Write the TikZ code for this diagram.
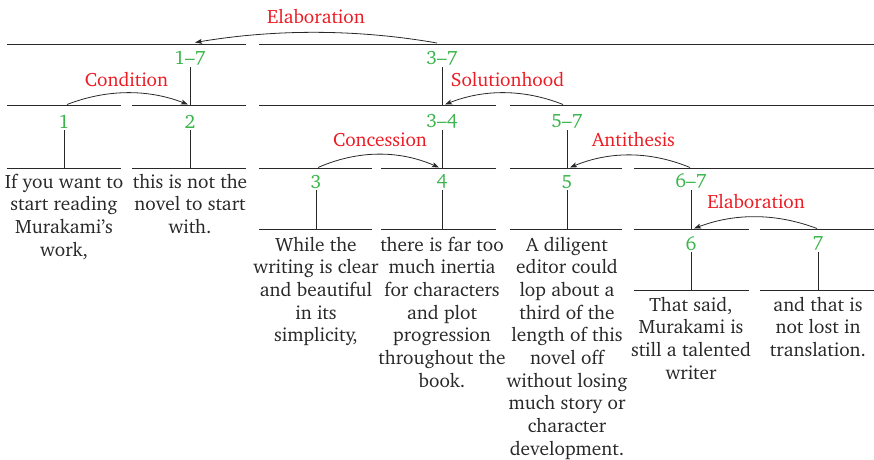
\documentclass[tikz,border=0pt]{standalone}
\usepackage[T1]{fontenc}
\usepackage{charter}
\usetikzlibrary{arrows.meta}
\definecolor{relred}{RGB}{237,28,36}
\definecolor{spangreen}{RGB}{57,181,74}
\definecolor{inkc}{RGB}{40,40,40}
\newcommand{\rstfont}{\fontsize{19.3}{22.7}\selectfont}
\begin{document}
\begin{tikzpicture}[x=1pt,y=-1pt,
  spanline/.style={line width=0.9pt,draw=inkc},
  stem/.style={line width=0.9pt,draw=inkc},
  spanlbl/.style={text=spangreen,font=\rstfont,inner xsep=0pt,inner ysep=1.5pt,anchor=south},
  relname/.style={text=relred,font=\rstfont,inner sep=0pt,anchor=base},
  edu/.style={text=inkc,font=\rstfont,align=center,inner sep=0pt,anchor=north},
  relarrow/.style={draw=inkc,line width=0.8pt,-{Stealth[length=7pt,width=5pt,inset=1.5pt]}}]
\useasboundingbox (0,0) rectangle (874,459);

% horizontal span lines, row by row
\foreach \a/\b/\y in {7/246/44, 259/874/44,
    7/121/105, 132/246/105, 259/496/105, 510/874/105,
    7/121/168, 132/246/168, 259/372/168, 381/496/168, 510/622/168, 634/874/168,
    259/372/229, 381/496/229, 510/622/229, 634/749/229, 760/874/229,
    634/749/290, 760/874/290}
  \draw[spanline] (\a,\y) -- (\b,\y);

% span labels
\node[spanlbl] (n17) at (190,67)  {1--7};
\node[spanlbl] (n37) at (442,67)  {3--7};
\node[spanlbl] (n1)  at (64,130)  {1};
\node[spanlbl] (n2)  at (190,130) {2};
\node[spanlbl] (n34) at (442,130) {3--4};
\node[spanlbl] (n57) at (567,130) {5--7};
\node[spanlbl] (n3)  at (316,190) {3};
\node[spanlbl] (n4)  at (442,190) {4};
\node[spanlbl] (n5)  at (567,190) {5};
\node[spanlbl] (n67) at (691,190) {6--7};
\node[spanlbl] (n6)  at (691,252) {6};
\node[spanlbl] (n7)  at (818,252) {7};

% stem ends on the span lines below
\coordinate (b17) at (190,105);
\coordinate (b37) at (442,105);
\coordinate (b1)  at (64,168);
\coordinate (b2)  at (190,168);
\coordinate (b34) at (442,168);
\coordinate (b57) at (567,168);
\coordinate (b3)  at (316,229);
\coordinate (b4)  at (442,229);
\coordinate (b5)  at (567,229);
\coordinate (b67) at (691,229);
\coordinate (b6)  at (691,290);
\coordinate (b7)  at (818,290);
\foreach \n in {17,37,1,2,34,57,3,4,5,67,6,7}
  \draw[stem] (n\n.south) -- (b\n);

% relation names
\node[relname] (rElab)  at (316,23)    {Elaboration};
\node[relname] (rCond)  at (126.5,86.5) {Condition};
\node[relname] (rSol)   at (507.5,86)  {Solutionhood};
\node[relname] (rConc)  at (380,146.5) {Concession};
\node[relname] (rAnti)  at (633.5,146.5) {Antithesis};
\node[relname] (rElab2) at (756,208.3) {Elaboration};

% relation arcs: satellite -> nucleus
\coordinate (s37) at (437,43);   \coordinate (t17) at (195,42.5);
\coordinate (s1)  at (67,104.5); \coordinate (t2)  at (188,104.5);
\coordinate (s57) at (563,104.5);\coordinate (t34) at (445,104.5);
\coordinate (s3)  at (318,167.5);\coordinate (t4)  at (439,167.5);
\coordinate (s67) at (690,167.5);\coordinate (t5)  at (570,167.5);
\coordinate (s7)  at (817,228.5);\coordinate (t6)  at (694,228.5);
\draw[relarrow] (s37) .. controls (357,29) and (275,29) .. (t17);
\draw[relarrow] (s1)  .. controls (107,89) and (148,89) .. (t2);
\draw[relarrow] (s57) .. controls (524,89) and (484,89) .. (t34);
\draw[relarrow] (s3)  .. controls (358,150) and (399,150) .. (t4);
\draw[relarrow] (s67) .. controls (650,151) and (610,151) .. (t5);
\draw[relarrow] (s7)  .. controls (776,213) and (735,213) .. (t6);

% elementary discourse units
\node[edu] (e1) at (64,173.5)  {If you want to\\start reading\\Murakami's\\work,};
\node[edu] (e2) at (190,173.5) {this is not the\\novel to start\\with.};
\node[edu] (e3) at (316,236.5) {While the\\writing is clear\\and beautiful\\in its\\simplicity,};
\node[edu] (e4) at (442,236.5) {there is far too\\much inertia\\for characters\\and plot\\progression\\throughout the\\book.};
\node[edu] (e5) at (567,236.5) {A diligent\\editor could\\lop about a\\third of the\\length of this\\novel off\\without losing\\much story or\\character\\development.};
\node[edu] (e6) at (691,296.5) {That said,\\Murakami is\\still a talented\\writer};
\node[edu] (e7) at (818,296.5) {and that is\\not lost in\\translation.};
\end{tikzpicture}
\end{document}
